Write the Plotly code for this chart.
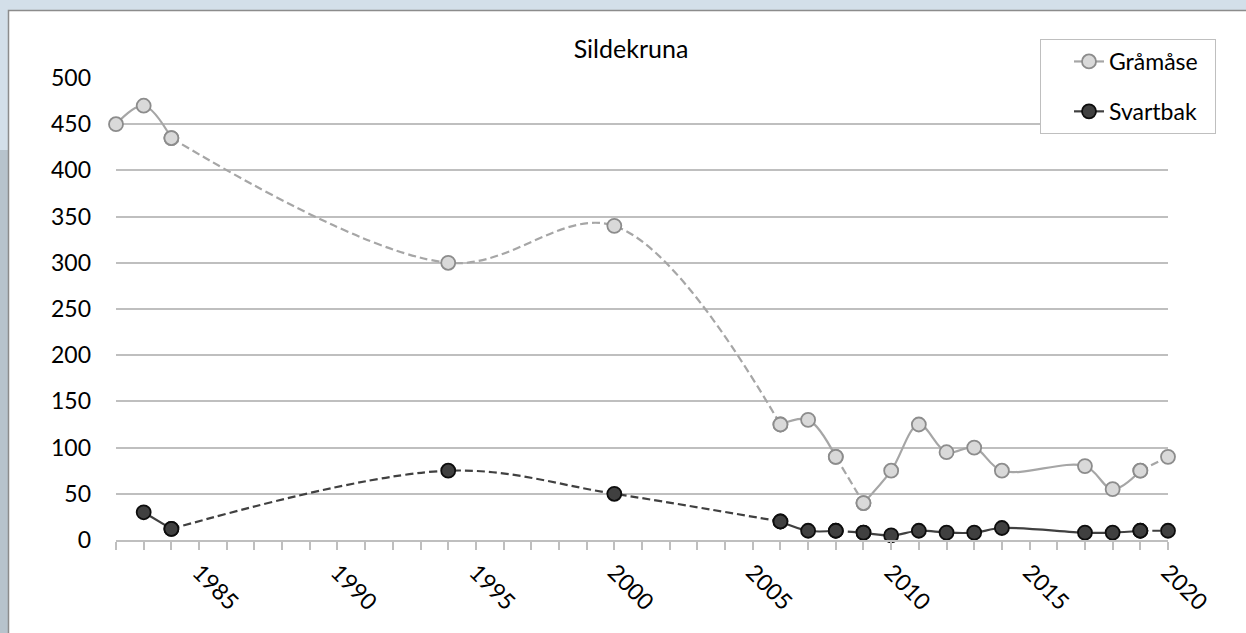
import plotly.graph_objects as go

# ---- data ----
years_g = [1982, 1983, 1984, 1994, 2000, 2006, 2007, 2008, 2009, 2010, 2011, 2012, 2013, 2014, 2017, 2018, 2019, 2020]
gramase = [450, 470, 435, 300, 340, 125, 130, 90, 40, 75, 125, 95, 100, 75, 80, 55, 75, 90]

years_s = [1983, 1984, 1994, 2000, 2006, 2007, 2008, 2009, 2010, 2011, 2012, 2013, 2014, 2017, 2018, 2019, 2020]
svartbak = [30, 12, 75, 50, 20, 10, 10, 8, 5, 10, 8, 8, 13, 8, 8, 10, 10]

# segment breakpoints (year ranges) and whether they are dashed
segments = [(None, 1984, False), (1984, 2006, True), (2006, 2008, False),
            (2008, 2009, True), (2009, 2019, False), (2019, 2020, True)]

title_text = "Sildekruna"
x_tick_years = list(range(1982, 2021))
x_tick_text = [str(y) if y % 5 == 0 else "" for y in x_tick_years]

W, H = 1246, 633
ML, MR, MT, MB = 116, 78, 78, 93
FONT = "Lato"
PAD = "\u00a0\u00a0"

fig = go.Figure()


def add_series(name, xs, ys, line_color, fill, border):
    first = True
    for a, b, dashed in segments:
        lo = xs[0] if a is None else a
        idx = [i for i, x in enumerate(xs) if lo <= x <= b]
        if len(idx) < 2:
            continue
        sx = [xs[i] for i in idx]
        sy = [ys[i] for i in idx]
        fig.add_trace(go.Scatter(
            x=sx, y=sy, name=name + PAD, legendgroup=name,
            showlegend=(first and not dashed),
            mode="lines+markers",
            line=dict(color=line_color, width=2.2, shape="spline", smoothing=1.0,
                      dash="8px,4px" if dashed else "solid"),
            marker=dict(size=14, color=fill, line=dict(color=border, width=1.8)),
            cliponaxis=False,
        ))
        if not dashed:
            first = False


add_series("Gråmåse", years_g, gramase, "#a6a6a6", "#d9d9d9", "#8c8c8c")
add_series("Svartbak", years_s, svartbak, "#404040", "#404040", "#0d0d0d")


def px_x(p):
    return (p - ML) / (W - ML - MR)


def px_y(p):
    return (H - MB - p) / (H - MT - MB)


fig.update_layout(
    width=W, height=H,
    margin=dict(l=ML, r=MR, t=MT, b=MB, pad=0, autoexpand=False),
    paper_bgcolor="#d3dfe9",
    plot_bgcolor="white",
    font=dict(family=FONT, size=23, color="#000000"),
    title=dict(text=title_text, x=631 / W, xref="container", xanchor="center",
               y=1 - 49 / H, yref="container", yanchor="middle",
               font=dict(family=FONT, size=25)),
    shapes=[
        dict(type="rect", xref="paper", yref="paper", layer="below",
             x0=px_x(0), x1=px_x(8), y0=px_y(H + 5), y1=px_y(150),
             fillcolor="#b7c3cc", line=dict(width=0)),
        dict(type="rect", xref="paper", yref="paper", layer="below",
             x0=px_x(8.5), x1=px_x(W + 20), y0=px_y(H + 20), y1=px_y(10.5),
             fillcolor="white", line=dict(color="#8c8c8c", width=1.5)),
    ],
    legend=dict(
        x=px_x(1040), xref="paper", xanchor="left",
        y=px_y(39), yref="paper", yanchor="top",
        bgcolor="white", bordercolor="#bfbfbf", borderwidth=1,
        font=dict(family=FONT, size=23),
        traceorder="grouped", tracegroupgap=17,
        indentation=28,
    ),
    showlegend=True,
)

fig.update_xaxes(
    range=[1982, 2020],
    tickmode="array", tickvals=x_tick_years, ticktext=x_tick_text,
    tickangle=45,
    ticks="outside", ticklen=8, tickcolor="#bfbfbf", tickwidth=1.5,
    showline=True, linecolor="#bfbfbf", linewidth=1.5,
    showgrid=False, zeroline=False,
    tickfont=dict(family=FONT, size=23),
)
fig.update_yaxes(
    range=[0, 500], dtick=50,
    showgrid=True, gridcolor="#bfbfbf", gridwidth=1.5,
    zeroline=False, showline=False, ticks="",
    ticklabelstandoff=24,
    tickfont=dict(family=FONT, size=23),
)

fig.write_html(
    "out.html",
    config={"displayModeBar": False},
    post_script="document.body.style.margin='0';document.body.style.overflow='hidden';",
)
